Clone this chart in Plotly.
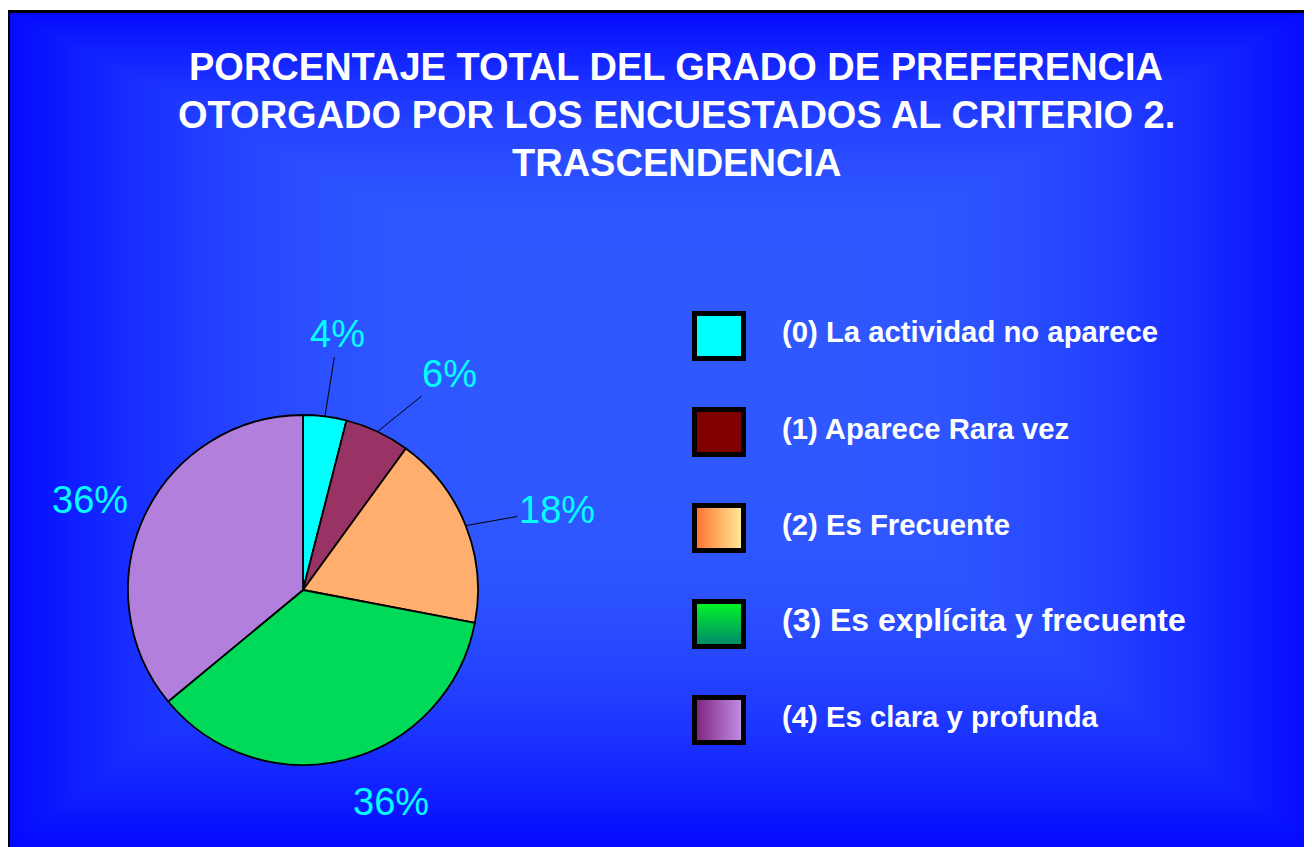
import base64
import struct
import zlib

import numpy as np
import plotly.graph_objects as go

# datos del grafico
categorias = [
    "(0) La actividad no aparece",
    "(1) Aparece Rara vez",
    "(2) Es Frecuente",
    "(3) Es explícita y frecuente",
    "(4) Es clara y profunda",
]
porcentajes = [4, 6, 18, 36, 36]
titulo = [
    "PORCENTAJE TOTAL DEL GRADO DE PREFERENCIA",
    "OTORGADO POR LOS ENCUESTADOS AL CRITERIO 2.",
    "TRASCENDENCIA",
]

# estilos
colores_pie = ["#00FFFF", "#993366", "#FFAE6E", "#00DA58", "#B27FDC"]
# degradados de la leyenda: (color inicio, color fin, eje)
grad_leyenda = [
    ((0, 255, 255), (0, 255, 255), 1),
    ((128, 0, 0), (128, 0, 0), 1),
    ((255, 106, 40), (255, 246, 160), 1),
    ((0, 255, 34), (0, 128, 112), 0),
    ((122, 30, 120), (200, 152, 240), 1),
]
tam_leyenda = [29.3, 29.3, 29.3, 32, 29.3]
# desplazamiento (px) de cada etiqueta respecto al borde del sector
offset_etiquetas = [(13, -82), (72, -58), (91, -16), (44, 42), (-55, -15)]

# la pagina tiene 8px de margen, se compensa
OFF = 8
W, H = 1312 - OFF, 847 - OFF
FONT = "Liberation Sans, Arial, sans-serif"
PIE_CX, PIE_CY, PIE_R = 303, 590, 175


def png_uri(arr):
    arr = np.ascontiguousarray(arr.astype(np.uint8))
    h, w, _ = arr.shape
    raw = b"".join(b"\x00" + arr[i].tobytes() for i in range(h))

    def chunk(tag, data):
        c = struct.pack(">I", len(data)) + tag + data
        return c + struct.pack(">I", zlib.crc32(tag + data) & 0xFFFFFFFF)

    png = b"\x89PNG\r\n\x1a\n"
    png += chunk(b"IHDR", struct.pack(">IIBBBBB", w, h, 8, 2, 0, 0, 0))
    png += chunk(b"IDAT", zlib.compress(raw, 9))
    png += chunk(b"IEND", b"")
    return "data:image/png;base64," + base64.b64encode(png).decode()


def gradiente(w, h, c0, c1, eje):
    n = h if eje == 0 else w
    t = np.linspace(0, 1, n)[:, None]
    fila = np.array(c0)[None, :] * (1 - t) + np.array(c1)[None, :] * t
    if eje == 0:
        return np.repeat(fila[:, None, :], w, axis=1)
    return np.repeat(fila[None, :, :], h, axis=0)


# coordenadas de pantalla -> paper
def px(x, y):
    return (x - OFF) / W, 1 - (y - OFF) / H


# fondo azul con degradado desde el centro
bw, bh = 328, 210
x0_bg, y0_bg = 8, 11
xs = np.linspace(x0_bg, 1312, bw)[None, :]
ys = np.linspace(y0_bg, 847, bh)[:, None]
cx, cy = 660, 350
dx = np.abs(xs - cx) / 652
dy = np.where(ys < cy, (cy - ys) / 340, (ys - cy) / 497)
t = np.maximum(dx, dy)
f = 1 - np.clip((t - 0.3) / 0.7, 0, 1) ** 2
centro = np.array([48, 88, 255])
borde = np.array([5, 10, 255])
fondo = borde[None, None, :] + (centro - borde)[None, None, :] * f[:, :, None]

bx0, by0 = px(x0_bg, y0_bg)
images = [dict(
    source=png_uri(fondo), xref="paper", yref="paper",
    x=bx0, y=by0, sizex=1 - bx0, sizey=by0,
    xanchor="left", yanchor="top", sizing="stretch", layer="below",
)]

fig = go.Figure()

dx0, dy1 = px(PIE_CX - PIE_R, PIE_CY - PIE_R)
dx1, dy0 = px(PIE_CX + PIE_R, PIE_CY + PIE_R)
fig.add_trace(go.Pie(
    labels=categorias, values=porcentajes, sort=False,
    direction="clockwise", rotation=0,
    marker=dict(colors=colores_pie, line=dict(color="black", width=1.8)),
    textinfo="none", hoverinfo="label+percent",
    domain=dict(x=[dx0, dx1], y=[dy0, dy1]), showlegend=False,
))

annotations = []
shapes = []

# etiquetas de porcentaje en el angulo medio de cada sector
total = sum(porcentajes)
acum = 0
for v, (ox, oy) in zip(porcentajes, offset_etiquetas):
    ang = np.radians((acum + v / 2) / total * 360)
    acum += v
    ex = PIE_CX + PIE_R * np.sin(ang)
    ey = PIE_CY - PIE_R * np.cos(ang)
    x, y = px(ex, ey)
    annotations.append(dict(
        x=x, y=y, xref="paper", yref="paper", ax=ox, ay=oy,
        text=f"{round(v / total * 100)}%", showarrow=True, arrowhead=0,
        arrowwidth=1, standoff=0,
        arrowcolor="black" if v < 20 else "rgba(0,0,0,0)",
        font=dict(family=FONT, size=38, color="#00FFFF"),
    ))

# titulo
for linea, yc in zip(titulo, [67, 115, 163]):
    x, y = px(676, yc)
    annotations.append(dict(
        x=x, y=y, xref="paper", yref="paper", showarrow=False,
        text=f"<b>{linea}</b>", xanchor="center", yanchor="middle",
        font=dict(family=FONT, size=38, color="white"),
    ))

# leyenda hecha a mano
for i, (cat, (c0, c1, eje), sz) in enumerate(zip(categorias, grad_leyenda, tam_leyenda)):
    top = 311 + 96 * i
    x0, y0 = px(692, top)
    x1, y1 = px(746, top + 50)
    images.append(dict(
        source=png_uri(gradiente(44, 40, c0, c1, eje)), xref="paper", yref="paper",
        x=x0, y=y0, sizex=x1 - x0, sizey=y0 - y1,
        xanchor="left", yanchor="top", sizing="stretch", layer="below",
    ))
    rx0, ry1 = px(694.5, top + 2.5)
    rx1, ry0 = px(743.5, top + 47.5)
    shapes.append(dict(type="rect", xref="paper", yref="paper",
                       x0=rx0, x1=rx1, y0=ry0, y1=ry1,
                       line=dict(color="black", width=5)))
    tx, ty = px(780, top + 21)
    annotations.append(dict(
        x=tx, y=ty, xref="paper", yref="paper", showarrow=False,
        text=f"<b>{cat}</b>", xanchor="left", yanchor="middle",
        font=dict(family=FONT, size=sz, color="white"),
    ))

# marco negro del area del grafico
fx0, fy1 = px(8.5, 11.5)
shapes.append(dict(type="rect", xref="paper", yref="paper",
                   x0=fx0, x1=1.02, y0=-0.02, y1=fy1,
                   line=dict(color="black", width=3), layer="below"))

fig.update_layout(
    width=W, height=H,
    margin=dict(l=0, r=0, t=0, b=0),
    paper_bgcolor="white", plot_bgcolor="white",
    images=images, annotations=annotations, shapes=shapes,
    showlegend=False,
)

fig.write_html("out.html")
